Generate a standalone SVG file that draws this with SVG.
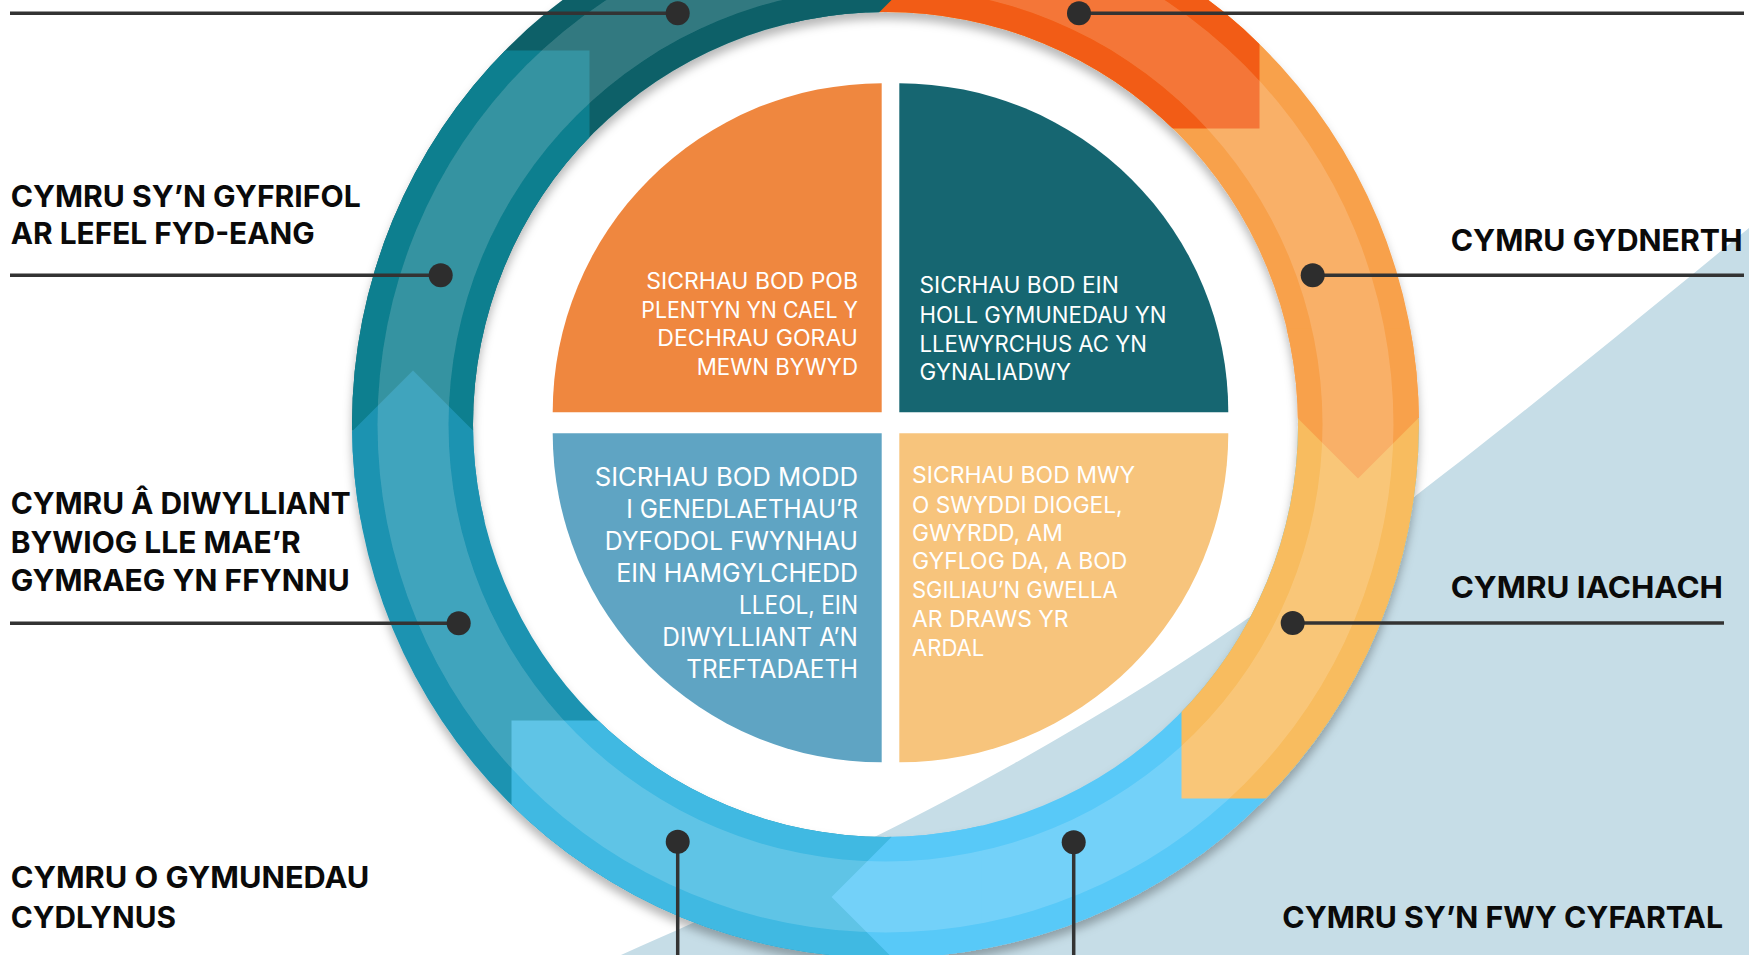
<svg xmlns="http://www.w3.org/2000/svg" width="1749" height="955" viewBox="0 0 1749 955">
<style>
.lbl{font-family:Inter,"Open Sans","Liberation Sans",sans-serif;font-weight:700;font-size:30px;fill:#0a0a0a}
.qt{font-family:Inter,"Open Sans","Liberation Sans",sans-serif;font-weight:400;fill:#ffffff}
.qo{font-size:22.5px;text-anchor:end}
.qg{font-size:22.5px}
.qb{font-size:25.5px;text-anchor:end}
.qy{font-size:23px}
.conn{stroke:#333333;stroke-width:3.5;fill:none}
.dot{fill:#2d2d2d}
</style>
<defs>
<clipPath id="ringClip">
<path clip-rule="evenodd" d="M352,424.5 a533.5,533.5 0 1,0 1067,0 a533.5,533.5 0 1,0 -1067,0 Z M473,424.5 a412.5,412.5 0 1,0 825,0 a412.5,412.5 0 1,0 -825,0 Z"/>
</clipPath>
<filter id="ringShadow" x="-10%" y="-10%" width="120%" height="125%">
<feDropShadow dx="0" dy="7" stdDeviation="5" flood-color="#000000" flood-opacity="0.28"/>
</filter>
</defs>

<rect x="0" y="0" width="1749" height="955" fill="#ffffff"/>
<path id="backdrop" d="M621,955 C1121,735 1290,605 1749,228 L1749,955 Z" fill="#c6dde7"/>

<g id="ring" filter="url(#ringShadow)">
<g clip-path="url(#ringClip)">
<rect x="300" y="-150" width="579.5" height="580.5" fill="#0b6068"/>
<rect x="879.5" y="-150" width="600" height="568.5" fill="#f8a14b"/>
<rect x="891.5" y="418.5" width="600" height="600" fill="#59c9f8"/>
<rect x="300" y="430.5" width="591.5" height="600" fill="#1d93b1"/>
<rect x="300" y="50.5" width="289.5" height="380" fill="#107f8f"/>
<rect x="879.5" y="-150" width="380" height="278.5" fill="#f25c12"/>
<rect x="1181.5" y="418.5" width="300" height="380" fill="#f8bc5f"/>
<rect x="511.5" y="720.5" width="380" height="300" fill="#40b9e2"/>
<polygon points="789.5,-198 939.5,-48 789.5,102" fill="#0b6068"/>
<polygon points="1208,328.5 1358,478.5 1508,328.5" fill="#f8a14b"/>
<polygon points="981.5,747 831.5,897 981.5,1047" fill="#59c9f8"/>
<polygon points="263,520.5 413,370.5 563,520.5" fill="#1d93b1"/>
<path fill="#ffffff" fill-opacity="0.16" fill-rule="evenodd" d="M377.5,424.5 a508,508 0 1,0 1016,0 a508,508 0 1,0 -1016,0 Z M448.5,424.5 a437,437 0 1,0 874,0 a437,437 0 1,0 -874,0 Z"/>
</g>
</g>

<g id="quadrant-orange">
<path d="M881.7,412.3 L552.7,412.3 A329,329 0 0 1 881.7,83.3 Z" fill="#ef873f"/>
<text class="qt qo" x="858" y="289" textLength="211.7" lengthAdjust="spacingAndGlyphs">SICRHAU BOD POB</text>
<text class="qt qo" x="858" y="317.5" textLength="216.7" lengthAdjust="spacingAndGlyphs">PLENTYN YN CAEL Y</text>
<text class="qt qo" x="858" y="346" textLength="200.7" lengthAdjust="spacingAndGlyphs">DECHRAU GORAU</text>
<text class="qt qo" x="858" y="374.5" textLength="161.3" lengthAdjust="spacingAndGlyphs">MEWN BYWYD</text>
</g>
<g id="quadrant-teal">
<path d="M899.3,412.3 L899.3,83.3 A329,329 0 0 1 1228.3,412.3 Z" fill="#166671"/>
<text class="qt qg" x="919.5" y="293.3" textLength="199.3" lengthAdjust="spacingAndGlyphs">SICRHAU BOD EIN</text>
<text class="qt qg" x="919.5" y="322.5" textLength="247" lengthAdjust="spacingAndGlyphs">HOLL GYMUNEDAU YN</text>
<text class="qt qg" x="919.5" y="351.5" textLength="227.4" lengthAdjust="spacingAndGlyphs">LLEWYRCHUS AC YN</text>
<text class="qt qg" x="919.5" y="380" textLength="151.6" lengthAdjust="spacingAndGlyphs">GYNALIADWY</text>
</g>
<g id="quadrant-blue">
<path d="M881.7,433.3 L881.7,762.3 A329,329 0 0 1 552.7,433.3 Z" fill="#5fa4c3"/>
<text class="qt qb" x="858" y="485.7" textLength="263.3" lengthAdjust="spacingAndGlyphs">SICRHAU BOD MODD</text>
<text class="qt qb" x="858" y="517.7" textLength="231.7" lengthAdjust="spacingAndGlyphs">I GENEDLAETHAU’R</text>
<text class="qt qb" x="858" y="549.5" textLength="253.3" lengthAdjust="spacingAndGlyphs">DYFODOL FWYNHAU</text>
<text class="qt qb" x="858" y="581.7" textLength="241.7" lengthAdjust="spacingAndGlyphs">EIN HAMGYLCHEDD</text>
<text class="qt qb" x="858" y="613.5" textLength="119" lengthAdjust="spacingAndGlyphs">LLEOL, EIN</text>
<text class="qt qb" x="858" y="645.7" textLength="195.7" lengthAdjust="spacingAndGlyphs">DIWYLLIANT A’N</text>
<text class="qt qb" x="858" y="677.7" textLength="171.7" lengthAdjust="spacingAndGlyphs">TREFTADAETH</text>
</g>
<g id="quadrant-yellow">
<path d="M899.3,433.3 L1228.3,433.3 A329,329 0 0 1 899.3,762.3 Z" fill="#f7c47c"/>
<text class="qt qy" x="912" y="483.3" textLength="223.2" lengthAdjust="spacingAndGlyphs">SICRHAU BOD MWY</text>
<text class="qt qy" x="912" y="512.5" textLength="210.5" lengthAdjust="spacingAndGlyphs">O SWYDDI DIOGEL,</text>
<text class="qt qy" x="912" y="541" textLength="150.9" lengthAdjust="spacingAndGlyphs">GWYRDD, AM</text>
<text class="qt qy" x="912" y="569.3" textLength="215.4" lengthAdjust="spacingAndGlyphs">GYFLOG DA, A BOD</text>
<text class="qt qy" x="912" y="597.7" textLength="205.6" lengthAdjust="spacingAndGlyphs">SGILIAU’N GWELLA</text>
<text class="qt qy" x="912" y="626.5" textLength="156.5" lengthAdjust="spacingAndGlyphs">AR DRAWS YR</text>
<text class="qt qy" x="912" y="655.5" textLength="72.3" lengthAdjust="spacingAndGlyphs">ARDAL</text>
</g>

<g id="connectors">
<line class="conn" x1="10" y1="13.3" x2="677.7" y2="13.3"/>
<circle class="dot" cx="677.7" cy="13.3" r="12"/>
<line class="conn" x1="1079" y1="13.3" x2="1744" y2="13.3"/>
<circle class="dot" cx="1079" cy="13.3" r="12"/>
<line class="conn" x1="10" y1="275.3" x2="440.7" y2="275.3"/>
<circle class="dot" cx="440.7" cy="275.3" r="12"/>
<line class="conn" x1="1312.7" y1="275.3" x2="1744" y2="275.3"/>
<circle class="dot" cx="1312.7" cy="275.3" r="12"/>
<line class="conn" x1="10" y1="623.3" x2="458.7" y2="623.3"/>
<circle class="dot" cx="458.7" cy="623.3" r="12"/>
<line class="conn" x1="1292.7" y1="623" x2="1724" y2="623"/>
<circle class="dot" cx="1292.7" cy="623" r="12"/>
<line class="conn" x1="677.7" y1="841.7" x2="677.7" y2="955"/>
<circle class="dot" cx="677.7" cy="841.7" r="12"/>
<line class="conn" x1="1073.7" y1="842.3" x2="1073.7" y2="955"/>
<circle class="dot" cx="1073.7" cy="842.3" r="12"/>
</g>

<g id="label-gyfrifol">
<text class="lbl" x="10.7" y="206.7" textLength="350" lengthAdjust="spacingAndGlyphs">CYMRU SY’N GYFRIFOL</text>
<text class="lbl" x="10.7" y="244" textLength="304" lengthAdjust="spacingAndGlyphs">AR LEFEL FYD-EANG</text>
</g>
<g id="label-diwylliant">
<text class="lbl" x="10.7" y="514.3" textLength="340" lengthAdjust="spacingAndGlyphs">CYMRU Â DIWYLLIANT</text>
<text class="lbl" x="10.7" y="552.7" textLength="290" lengthAdjust="spacingAndGlyphs">BYWIOG LLE MAE’R</text>
<text class="lbl" x="10.7" y="590.7" textLength="339" lengthAdjust="spacingAndGlyphs">GYMRAEG YN FFYNNU</text>
</g>
<g id="label-cydlynus">
<text class="lbl" x="10.7" y="888.3" textLength="358.7" lengthAdjust="spacingAndGlyphs">CYMRU O GYMUNEDAU</text>
<text class="lbl" x="10.7" y="927.7" textLength="165.3" lengthAdjust="spacingAndGlyphs">CYDLYNUS</text>
</g>
<g id="label-gydnerth">
<text class="lbl" x="1450.7" y="250.7" textLength="292" lengthAdjust="spacingAndGlyphs">CYMRU GYDNERTH</text>
</g>
<g id="label-iachach">
<text class="lbl" x="1450.7" y="597.5" textLength="272.3" lengthAdjust="spacingAndGlyphs">CYMRU IACHACH</text>
</g>
<g id="label-cyfartal">
<text class="lbl" x="1282.3" y="928.3" textLength="440.7" lengthAdjust="spacingAndGlyphs">CYMRU SY’N FWY CYFARTAL</text>
</g>
</svg>
